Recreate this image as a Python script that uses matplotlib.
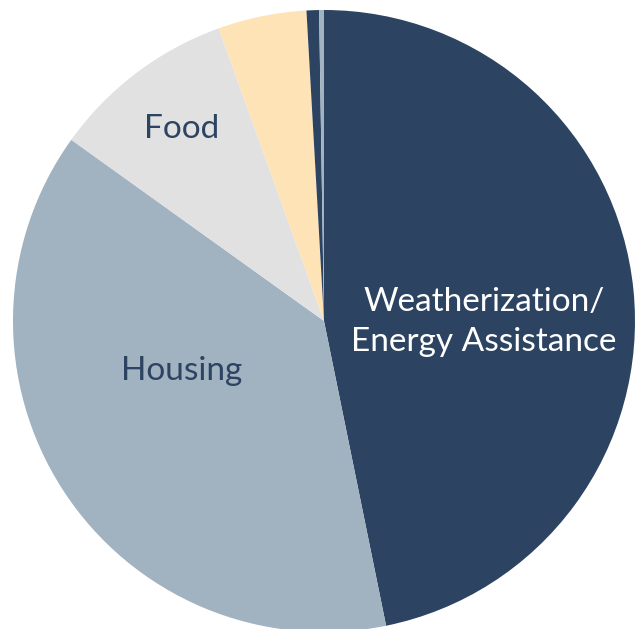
import matplotlib.pyplot as plt

categories = ['Weatherization/\nEnergy Assistance', 'Housing', 'Food', 'Other 1', 'Other 2', 'Other 3']
shares = [46.8, 38.1, 9.6, 4.6, 0.65, 0.25]
colors = ['#2c4462', '#a1b2c0', '#e1e1e1', '#fde3b6', '#2c4462', '#a1b2c0']
shown = [True, True, True, False, False, False]
text_colors = ['white', '#2c4462', '#2c4462', None, None, None]
text_pos = [(0.514, -0.003), (-0.457, -0.161), (-0.457, 0.617), None, None, None]

fig = plt.figure(figsize=(6.43, 6.29), dpi=100)
ax = fig.add_axes([13 / 643, (629 - 321 - 311) / 629, 622 / 643, 622 / 629])
ax.pie(shares, colors=colors, startangle=90, counterclock=False, radius=1,
       wedgeprops={'linewidth': 0})
ax.set_xlim(-1, 1)
ax.set_ylim(-1, 1)
ax.axis('off')

for lab, s, c, p in zip(categories, shown, text_colors, text_pos):
    if s:
        ax.text(p[0], p[1], lab, color=c, ha='center', va='center', fontsize=24,
                family='Lato', fontweight='normal', linespacing=1.45, zorder=5)

fig.savefig('out.png', dpi=100)
